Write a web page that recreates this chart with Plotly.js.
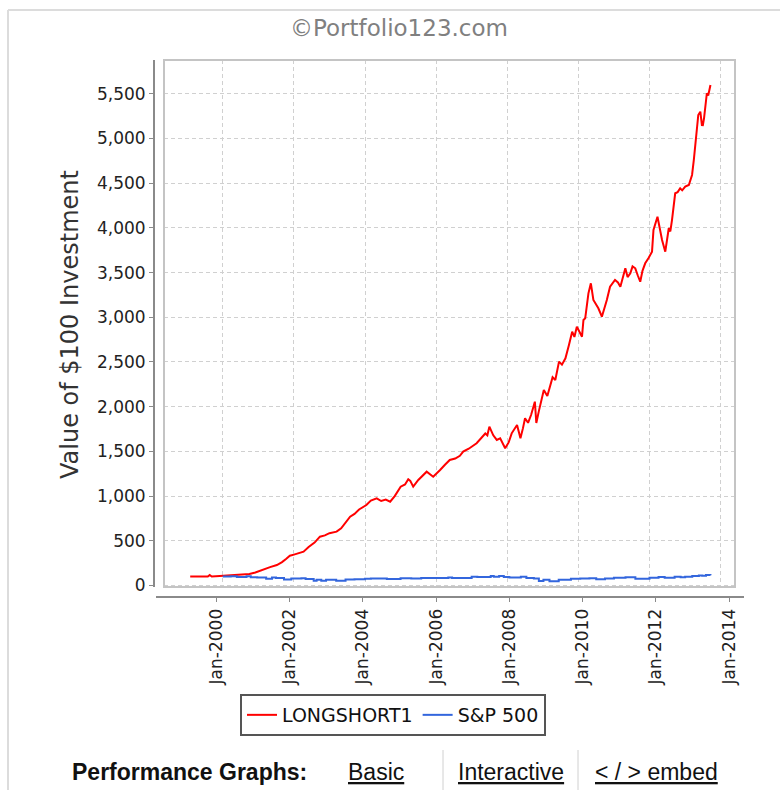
<!DOCTYPE html>
<html>
<head>
<meta charset="utf-8">
<script src="https://cdn.plot.ly/plotly-3.0.1.min.js"></script>
<style>
  html, body { margin: 0; padding: 0; background: #ffffff; }
  #chart { width: 780px; height: 790px; }
</style>
</head>
<body>
<div id="chart"></div>
<script>
// ---- Data ----
const seriesNames = ["LONGSHORT1", "S&P 500"];

const longShortDates = [
  "1999-02-01","1999-04-01","1999-06-01","1999-08-01","1999-08-20","1999-09-10","1999-12-01",
  "2000-02-01","2000-04-01","2000-06-01","2000-08-01","2000-10-01","2000-12-01",
  "2001-01-20","2001-03-01","2001-05-01","2001-07-10","2001-09-01","2001-10-15","2001-11-20",
  "2002-01-01","2002-02-15","2002-04-10","2002-06-01","2002-08-01","2002-09-25","2002-11-15",
  "2003-01-01","2003-03-15","2003-05-01","2003-06-15","2003-08-01","2003-09-15","2003-10-10","2003-11-01",
  "2004-01-15","2004-03-01","2004-04-30","2004-06-15","2004-08-01","2004-09-15","2004-11-01",
  "2005-01-01","2005-02-15","2005-03-20","2005-04-10","2005-05-10","2005-07-01","2005-08-15","2005-09-25","2005-12-01",
  "2006-01-05","2006-02-10","2006-04-01","2006-05-20","2006-07-15","2006-09-01","2006-10-05","2006-12-01",
  "2007-02-20","2007-04-15","2007-05-20","2007-06-10","2007-07-01","2007-08-10","2007-09-15","2007-10-20","2007-12-10",
  "2008-01-15","2008-02-15","2008-04-10","2008-05-15","2008-06-10","2008-07-01","2008-08-01","2008-09-01","2008-10-10","2008-10-25","2008-11-20",
  "2009-01-10","2009-02-15","2009-03-20","2009-04-10","2009-05-08","2009-06-15","2009-07-15","2009-08-20","2009-09-25","2009-10-28","2009-11-20","2009-12-15",
  "2010-02-06","2010-02-21","2010-03-11","2010-04-05","2010-04-13","2010-05-08","2010-06-03","2010-07-24","2010-08-29","2010-10-19","2010-11-21",
  "2011-01-11","2011-02-10","2011-03-07","2011-04-27","2011-05-20","2011-06-17","2011-07-10","2011-08-07","2011-09-01","2011-09-27","2011-10-20","2011-11-17","2011-12-20",
  "2012-01-26","2012-02-10","2012-03-22","2012-05-08","2012-06-10","2012-07-16","2012-08-01","2012-08-18","2012-09-20","2012-10-15","2012-11-10","2012-12-01",
  "2013-01-01","2013-02-07","2013-02-20","2013-03-12","2013-03-30","2013-04-23","2013-05-15","2013-06-05","2013-06-21","2013-07-01","2013-07-13","2013-08-11","2013-08-25","2013-09-17"
];
const longShortValues = [
  100,100,101,100,118,100,106,
  110,113,112,117,128,145,
  166,185,205,229,262,300,333,
  345,360,378,430,480,546,560,
  585,602,640,700,770,800,830,850,
  900,950,975,945,960,937,1000,
  1105,1130,1188,1170,1105,1180,1230,1273,1217,
  1260,1292,1350,1404,1420,1450,1497,1530,
  1591,1650,1700,1680,1777,1680,1628,1647,1535,
  1600,1702,1795,1647,1760,1870,1820,1907,2056,1817,1950,
  2187,2120,2262,2330,2299,2504,2470,2541,2690,2839,2780,2895,
  2783,2970,2989,3194,3268,3380,3194,3101,3007,3194,3342,
  3417,3390,3342,3548,3450,3492,3570,3548,3470,3398,3520,3604,3660,
  3734,3977,4125,3865,3734,3996,3960,4088,4387,4400,4443,4420,
  4461,4480,4520,4592,4759,5020,5263,5300,5151,5150,5226,5506,5480,5598
];

const sp500Dates = [
  "2000-01-01","2000-03-24","2000-05-25","2000-09-01","2000-10-15","2000-12-20",
  "2001-03-22","2001-05-21","2001-07-01","2001-09-21","2001-12-05",
  "2002-01-15","2002-03-19","2002-05-01","2002-07-23","2002-08-22","2002-10-09","2002-11-27",
  "2003-03-11","2003-06-15","2003-09-15","2003-12-31",
  "2004-03-01","2004-08-12","2004-12-31",
  "2005-04-20","2005-07-31","2005-12-31",
  "2006-05-05","2006-06-13","2006-12-31",
  "2007-02-27","2007-07-15","2007-08-15","2007-10-09","2007-11-26",
  "2008-01-22","2008-05-19","2008-07-15","2008-09-30","2008-11-20",
  "2009-01-06","2009-03-09","2009-06-12","2009-10-15",
  "2010-01-19","2010-04-23","2010-07-02","2010-09-30","2010-12-31",
  "2011-04-29","2011-08-08","2011-10-03","2011-12-31",
  "2012-04-02","2012-06-04","2012-09-14","2012-11-15","2012-12-31",
  "2013-03-14","2013-05-21","2013-06-24","2013-08-02","2013-09-17"
];
const sp500Values = [
  100,104,95,103,93,90,
  76,90,84,66,79,
  78,80,73,54,65,53,64,
  54,68,70,76,
  78,72,82,
  78,83,85,
  89,83,97,
  95,106,98,107,96,
  90,97,84,79,51,
  64,46,64,74,
  78,82,69,78,86,
  93,76,74,86,
  96,87,99,93,97,
  107,113,108,116,115
];

const yTitleText = "Value of $100 Investment";
const chartTitleText = "©Portfolio123.com";
const navLabels = ["Performance Graphs:", "Basic", "Interactive", "&lt; / &gt; embed"];

// ---- Layout helpers (pixel -> paper) ----
const W = 780, H = 790;
const px = v => v / W;
const py = v => 1 - v / H;

const xRange = ["1998-05-08", "2014-05-27"];
const yRange = [-17, 5878];

const tickFont = { family: "DejaVu Sans, sans-serif", size: 17, color: "#222" };
const navFont = { family: "Liberation Sans, Arial, sans-serif", size: 23, color: "#111" };
const navLink = Object.assign({}, navFont, { lineposition: "under" });

const traces = [
  {
    x: longShortDates, y: longShortValues, name: seriesNames[0],
    type: "scatter", mode: "lines",
    line: { color: "#ff0000", width: 2 },
    xaxis: "x", yaxis: "y"
  },
  {
    x: sp500Dates, y: sp500Values, name: seriesNames[1],
    type: "scatter", mode: "lines",
    line: { color: "#3366dd", width: 2, shape: "hv" },
    xaxis: "x", yaxis: "y"
  },
  {
    x: [], y: [], xaxis: "x2", yaxis: "y2", showlegend: false, hoverinfo: "skip"
  }
];

const layout = {
  width: W, height: H,
  margin: { l: 0, r: 0, t: 0, b: 0, pad: 0 },
  paper_bgcolor: "#ffffff",
  plot_bgcolor: "rgba(0,0,0,0)",
  showlegend: true,
  legend: {
    orientation: "h",
    x: px(240), y: py(694), xanchor: "left", yanchor: "top",
    bordercolor: "#555", borderwidth: 2,
    bgcolor: "#ffffff",
    font: { family: "DejaVu Sans, sans-serif", size: 19, color: "#111" },
    traceorder: "normal"
  },
  xaxis: {
    type: "date",
    domain: [px(164), px(735)],
    range: xRange,
    anchor: "y",
    showticklabels: false, ticks: "",
    showline: false, zeroline: false,
    showgrid: true, gridcolor: "#d0d0d0", gridwidth: 1, griddash: "4px,3px",
    tick0: "2000-01-01", dtick: "M24"
  },
  yaxis: {
    domain: [1 - 587 / H, 1 - 60 / H],
    range: yRange,
    anchor: "free", position: px(154),
    showline: true, linecolor: "#8a8a8a", linewidth: 2,
    ticks: "outside", ticklen: 4, tickcolor: "#8a8a8a", tickwidth: 1,
    tick0: 0, dtick: 500, tickformat: ",d",
    tickfont: tickFont,
    showgrid: true, gridcolor: "#d0d0d0", gridwidth: 1, griddash: "4px,3px",
    zeroline: false
  },
  xaxis2: {
    type: "date",
    domain: [px(155.5), px(744)],
    range: xRange,
    anchor: "free", position: py(597),
    showline: true, linecolor: "#8a8a8a", linewidth: 2,
    ticks: "outside", ticklen: 4, tickcolor: "#8a8a8a", tickwidth: 1,
    tick0: "2000-01-01", dtick: "M24", tickformat: "%b-%Y",
    tickangle: -90,
    tickfont: tickFont,
    showgrid: false, zeroline: false
  },
  yaxis2: {
    domain: [1 - 587 / H, 1 - 60 / H],
    range: yRange,
    anchor: "x2",
    visible: false, showgrid: false
  },
  shapes: [
    { type: "rect", xref: "paper", yref: "paper",
      x0: px(164), x1: px(735), y0: py(587), y1: py(60),
      line: { color: "#c4c4c4", width: 2 }, layer: "above" },
    { type: "line", xref: "paper", yref: "paper",
      x0: px(8), x1: px(8), y0: 0, y1: py(10), line: { color: "#dcdcdc", width: 2 } },
    { type: "line", xref: "paper", yref: "paper",
      x0: px(8), x1: 1, y0: py(10), y1: py(10), line: { color: "#dcdcdc", width: 2 } },
    { type: "line", xref: "paper", yref: "paper",
      x0: px(443), x1: px(443), y0: 0, y1: py(750), line: { color: "#d0d0d0", width: 1 } },
    { type: "line", xref: "paper", yref: "paper",
      x0: px(578), x1: px(578), y0: 0, y1: py(750), line: { color: "#d0d0d0", width: 1 } }
  ],
  annotations: [
    { text: chartTitleText, xref: "paper", yref: "paper", x: px(399), y: py(28),
      xanchor: "center", yanchor: "middle", showarrow: false,
      font: { family: "DejaVu Sans, sans-serif", size: 23, color: "#808080" } },
    { text: yTitleText, xref: "paper", yref: "paper", x: px(70), y: py(325),
      xanchor: "center", yanchor: "middle", showarrow: false, textangle: -90,
      font: { family: "DejaVu Sans, sans-serif", size: 24, color: "#333" } },
    { text: "<b>" + navLabels[0] + "</b>", xref: "paper", yref: "paper", x: px(189), y: py(772),
      xanchor: "center", yanchor: "middle", showarrow: false, font: navFont },
    { text: navLabels[1], xref: "paper", yref: "paper", x: px(376), y: py(772),
      xanchor: "center", yanchor: "middle", showarrow: false, font: navLink },
    { text: navLabels[2], xref: "paper", yref: "paper", x: px(511), y: py(772),
      xanchor: "center", yanchor: "middle", showarrow: false, font: navLink },
    { text: navLabels[3], xref: "paper", yref: "paper", x: px(656), y: py(772),
      xanchor: "center", yanchor: "middle", showarrow: false, font: navLink }
  ]
};

Plotly.newPlot("chart", traces, layout, { staticPlot: true, displayModeBar: false });
</script>
</body>
</html>
